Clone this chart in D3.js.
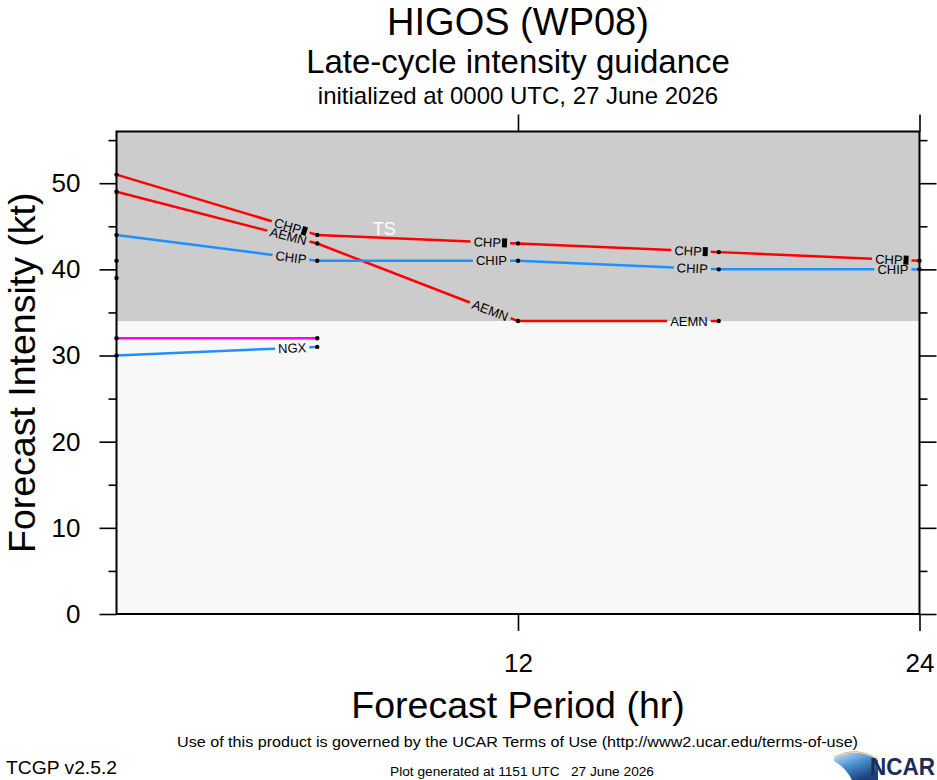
<!DOCTYPE html>
<html>
<head>
<meta charset="utf-8">
<script src="https://cdn.jsdelivr.net/npm/d3@7"></script>
<style>
  body { margin: 0; background: #fff; }
  svg { display: block; font-family: "Liberation Sans", Arial, Helvetica, sans-serif; }
</style>
</head>
<body>
<svg id="chart" width="937" height="780"></svg>
<script>
// forecast hours and intensity guidance (kt)
const hours = [0, 6, 12, 18, 24];
const chpValues = [51, 44, 43, 42, 41];
const aemnValues = [49, 43, 34, 34];
const chipValues = [44, 41, 41, 40, 40];
const ngxValues = [30, 31];
const magentaValues = [32, 32];
const initOnly = [41, 39];   // dots at hour 0 with no track

const yMajor = [0, 10, 20, 30, 40, 50];
const yMinor = [5, 15, 25, 35, 45, 55];
const xMajor = [12, 24];
const tsThreshold = 34;

const series = [
  { name: "CHP", values: chpValues, color: "#ff0000", box: true },
  { name: "AEMN", values: aemnValues, color: "#ff0000" },
  { name: "CHIP", values: chipValues, color: "#1e90ff" },
  { name: "NGX", values: ngxValues, color: "#1e90ff" },
  { name: null, values: magentaValues, color: "#ff00ff" }
];

const svg = d3.select("#chart");
const plot = { left: 116.5, right: 919.5, top: 131.5, bottom: 614 };

const x = d3.scaleLinear().domain([0, 24]).range([plot.left, plot.right]);
const y = d3.scaleLinear().domain([0, 56]).range([plot.bottom, plot.top]);

// background shading: below / above tropical storm threshold
svg.append("rect")
  .attr("x", plot.left).attr("y", y(tsThreshold))
  .attr("width", plot.right - plot.left).attr("height", plot.bottom - y(tsThreshold))
  .attr("fill", "#f8f8f8");
svg.append("rect")
  .attr("x", plot.left).attr("y", plot.top)
  .attr("width", plot.right - plot.left).attr("height", y(tsThreshold) - plot.top)
  .attr("fill", "#cccccc");

svg.append("text")
  .attr("x", x(8)).attr("y", y(44))
  .attr("text-anchor", "middle")
  .attr("fill", "#fff")
  .attr("font-size", 18)
  .text("TS");

// tracks with labels cut into the end of each segment
const lines = svg.append("g");
const labels = svg.append("g");

series.forEach(s => {
  for (let i = 1; i < s.values.length; i++) {
    const x0 = x(hours[i - 1]), y0 = y(s.values[i - 1]);
    const x1 = x(hours[i]), y1 = y(s.values[i]);
    const len = Math.hypot(x1 - x0, y1 - y0);
    const ux = (x1 - x0) / len, uy = (y1 - y0) / len;

    if (!s.name) {
      lines.append("line")
        .attr("x1", x0).attr("y1", y0).attr("x2", x1).attr("y2", y1)
        .attr("stroke", s.color).attr("stroke-width", 2.5);
      continue;
    }

    const g = labels.append("g");
    const t = g.append("text")
      .attr("font-size", 13)
      .attr("dy", "0.36em")
      .attr("fill", "#000")
      .text(s.name);
    const tw = t.node().getComputedTextLength();
    const w = tw + (s.box ? 6 : 0);
    t.attr("x", -w / 2);
    if (s.box) {
      g.append("rect")
        .attr("x", -w / 2 + tw + 1).attr("y", -4.5)
        .attr("width", 5).attr("height", 9)
        .attr("fill", "#000");
    }

    const dist = w / 2 + 11;
    const cx = x1 - ux * dist, cy = y1 - uy * dist;
    const half = w / 2 + 3;
    const angle = Math.atan2(y1 - y0, x1 - x0) * 180 / Math.PI;
    g.attr("transform", `translate(${cx},${cy}) rotate(${angle})`);

    lines.append("line")
      .attr("x1", x0).attr("y1", y0)
      .attr("x2", cx - ux * half).attr("y2", cy - uy * half)
      .attr("stroke", s.color).attr("stroke-width", 2.5);
    lines.append("line")
      .attr("x1", cx + ux * half).attr("y1", cy + uy * half)
      .attr("x2", x1).attr("y2", y1)
      .attr("stroke", s.color).attr("stroke-width", 2.5);
  }
});

// axes
function styleAxis(g) {
  g.select(".domain").remove();
  g.selectAll("line").attr("stroke", "#000").attr("stroke-width", 1.6);
  g.selectAll("text").attr("font-size", 26).attr("fill", "#000")
    .attr("font-family", "Liberation Sans, Arial, sans-serif");
}

svg.append("g").attr("transform", `translate(${plot.left},0)`)
  .call(d3.axisLeft(y).tickValues(yMajor).tickSize(17).tickPadding(19).tickFormat(d3.format("d")))
  .call(styleAxis);
svg.append("g").attr("transform", `translate(${plot.left},0)`)
  .call(d3.axisLeft(y).tickValues(yMinor).tickSize(8).tickFormat(""))
  .call(styleAxis);
svg.append("g").attr("transform", `translate(${plot.right},0)`)
  .call(d3.axisRight(y).tickValues(yMajor).tickSize(17).tickFormat(""))
  .call(styleAxis);
svg.append("g").attr("transform", `translate(${plot.right},0)`)
  .call(d3.axisRight(y).tickValues(yMinor).tickSize(8).tickFormat(""))
  .call(styleAxis);
svg.append("g").attr("transform", `translate(0,${plot.bottom})`)
  .call(d3.axisBottom(x).tickValues(xMajor).tickSize(17).tickPadding(23).tickFormat(d3.format("d")))
  .call(styleAxis);
svg.append("g").attr("transform", `translate(0,${plot.top})`)
  .call(d3.axisTop(x).tickValues(xMajor).tickSize(17).tickFormat(""))
  .call(styleAxis);

svg.append("rect")
  .attr("x", plot.left).attr("y", plot.top)
  .attr("width", plot.right - plot.left).attr("height", plot.bottom - plot.top)
  .attr("fill", "none").attr("stroke", "#000").attr("stroke-width", 2);

// data points
const dots = [];
series.forEach(s => s.values.forEach((v, i) => dots.push([hours[i], v])));
initOnly.forEach(v => dots.push([0, v]));
svg.append("g").selectAll("circle")
  .data(dots)
  .enter()
  .append("circle")
  .attr("cx", d => x(d[0]))
  .attr("cy", d => y(d[1]))
  .attr("r", 2.2)
  .attr("fill", "#000");

// titles
const mid = (plot.left + plot.right) / 2;
svg.append("text").attr("x", mid).attr("y", 35).attr("text-anchor", "middle")
  .attr("font-size", 38).text("HIGOS (WP08)");
svg.append("text").attr("x", mid).attr("y", 73).attr("text-anchor", "middle")
  .attr("font-size", 33).text("Late-cycle intensity guidance");
svg.append("text").attr("x", mid).attr("y", 104).attr("text-anchor", "middle")
  .attr("font-size", 24).text("initialized at 0000 UTC, 27 June 2026");

svg.append("text").attr("x", mid).attr("y", 718).attr("text-anchor", "middle")
  .attr("font-size", 37.5).text("Forecast Period (hr)");
svg.append("text")
  .attr("transform", `translate(35,${(plot.top + plot.bottom) / 2}) rotate(-90)`)
  .attr("text-anchor", "middle")
  .attr("font-size", 37.5).text("Forecast Intensity (kt)");

// footer
const narrow = "Liberation Sans Narrow, Arial Narrow, Liberation Sans, sans-serif";
svg.append("text").attr("x", 177).attr("y", 747)
  .attr("font-family", narrow).attr("font-size", 14)
  .attr("textLength", 681).attr("lengthAdjust", "spacingAndGlyphs")
  .text("Use of this product is governed by the UCAR Terms of Use (http://www2.ucar.edu/terms-of-use)");
svg.append("text").attr("x", 6).attr("y", 774)
  .attr("font-family", narrow).attr("font-size", 19)
  .attr("textLength", 111).attr("lengthAdjust", "spacingAndGlyphs")
  .text("TCGP v2.5.2");
svg.append("text").attr("x", 390).attr("y", 776)
  .attr("font-family", narrow).attr("font-size", 12)
  .attr("textLength", 264).attr("lengthAdjust", "spacingAndGlyphs")
  .attr("xml:space", "preserve")
  .text("Plot generated at 1151 UTC   27 June 2026");

// NCAR logo
const defs = svg.append("defs");
const grad = defs.append("linearGradient").attr("id", "swoosh")
  .attr("x1", 0).attr("y1", 0).attr("x2", 0.6).attr("y2", 1);
grad.append("stop").attr("offset", 0).attr("stop-color", "#cfe6f7");
grad.append("stop").attr("offset", 0.5).attr("stop-color", "#4a90cf");
grad.append("stop").attr("offset", 1).attr("stop-color", "#1a3f7a");
svg.append("path")
  .attr("d", "M834,758 Q856,746 878,760 L878,780 L852,780 Q846,768 834,761 Z")
  .attr("fill", "url(#swoosh)");
svg.append("path")
  .attr("d", "M834,757 Q856,745 878,759")
  .attr("fill", "none").attr("stroke", "#e8a04a").attr("stroke-width", 0.8);
svg.append("text").attr("x", 870).attr("y", 775)
  .attr("font-size", 23).attr("font-weight", "bold").attr("fill", "#1c2c55")
  .attr("font-family", narrow)
  .attr("textLength", 65).attr("lengthAdjust", "spacingAndGlyphs")
  .text("NCAR");
</script>
</body>
</html>
